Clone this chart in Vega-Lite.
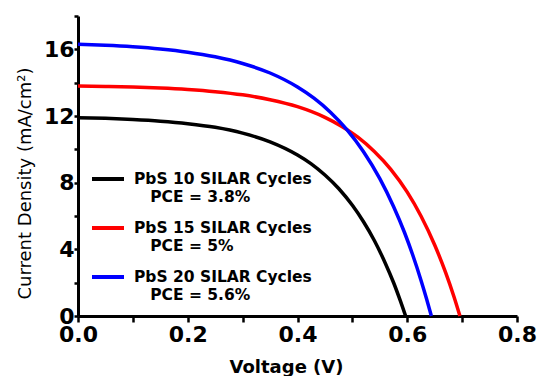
{
  "$schema": "https://vega.github.io/schema/vega-lite/v6.json",
  "width": 439,
  "height": 300,
  "autosize": {"type": "none"},
  "padding": {"left": 78, "top": 16, "right": 22, "bottom": 60},
  "background": "white",
  "config": {"view": {"stroke": null}},
  "data": {
    "values": [
      {"V": 0, "J": 11.9, "series": "PbS 10 SILAR Cycles"},
      {"V": 0.05, "J": 11.86, "series": "PbS 10 SILAR Cycles"},
      {"V": 0.1, "J": 11.79, "series": "PbS 10 SILAR Cycles"},
      {"V": 0.15, "J": 11.69, "series": "PbS 10 SILAR Cycles"},
      {"V": 0.2, "J": 11.54, "series": "PbS 10 SILAR Cycles"},
      {"V": 0.25, "J": 11.32, "series": "PbS 10 SILAR Cycles"},
      {"V": 0.3, "J": 10.97, "series": "PbS 10 SILAR Cycles"},
      {"V": 0.35, "J": 10.45, "series": "PbS 10 SILAR Cycles"},
      {"V": 0.4, "J": 9.66, "series": "PbS 10 SILAR Cycles"},
      {"V": 0.425, "J": 9.13, "series": "PbS 10 SILAR Cycles"},
      {"V": 0.45, "J": 8.46, "series": "PbS 10 SILAR Cycles"},
      {"V": 0.475, "J": 7.65, "series": "PbS 10 SILAR Cycles"},
      {"V": 0.5, "J": 6.64, "series": "PbS 10 SILAR Cycles"},
      {"V": 0.52, "J": 5.67, "series": "PbS 10 SILAR Cycles"},
      {"V": 0.54, "J": 4.53, "series": "PbS 10 SILAR Cycles"},
      {"V": 0.56, "J": 3.17, "series": "PbS 10 SILAR Cycles"},
      {"V": 0.575, "J": 2.01, "series": "PbS 10 SILAR Cycles"},
      {"V": 0.587, "J": 0.95, "series": "PbS 10 SILAR Cycles"},
      {"V": 0.597, "J": 0, "series": "PbS 10 SILAR Cycles"},
      {"V": 0, "J": 13.8, "series": "PbS 15 SILAR Cycles"},
      {"V": 0.05, "J": 13.77, "series": "PbS 15 SILAR Cycles"},
      {"V": 0.1, "J": 13.74, "series": "PbS 15 SILAR Cycles"},
      {"V": 0.15, "J": 13.68, "series": "PbS 15 SILAR Cycles"},
      {"V": 0.2, "J": 13.59, "series": "PbS 15 SILAR Cycles"},
      {"V": 0.25, "J": 13.46, "series": "PbS 15 SILAR Cycles"},
      {"V": 0.3, "J": 13.27, "series": "PbS 15 SILAR Cycles"},
      {"V": 0.35, "J": 12.98, "series": "PbS 15 SILAR Cycles"},
      {"V": 0.4, "J": 12.56, "series": "PbS 15 SILAR Cycles"},
      {"V": 0.45, "J": 11.92, "series": "PbS 15 SILAR Cycles"},
      {"V": 0.48, "J": 11.39, "series": "PbS 15 SILAR Cycles"},
      {"V": 0.51, "J": 10.73, "series": "PbS 15 SILAR Cycles"},
      {"V": 0.54, "J": 9.87, "series": "PbS 15 SILAR Cycles"},
      {"V": 0.57, "J": 8.8, "series": "PbS 15 SILAR Cycles"},
      {"V": 0.6, "J": 7.43, "series": "PbS 15 SILAR Cycles"},
      {"V": 0.625, "J": 6.0, "series": "PbS 15 SILAR Cycles"},
      {"V": 0.65, "J": 4.26, "series": "PbS 15 SILAR Cycles"},
      {"V": 0.67, "J": 2.6, "series": "PbS 15 SILAR Cycles"},
      {"V": 0.685, "J": 1.17, "series": "PbS 15 SILAR Cycles"},
      {"V": 0.696, "J": 0, "series": "PbS 15 SILAR Cycles"},
      {"V": 0, "J": 16.3, "series": "PbS 20 SILAR Cycles"},
      {"V": 0.05, "J": 16.24, "series": "PbS 20 SILAR Cycles"},
      {"V": 0.1, "J": 16.15, "series": "PbS 20 SILAR Cycles"},
      {"V": 0.15, "J": 16.02, "series": "PbS 20 SILAR Cycles"},
      {"V": 0.2, "J": 15.83, "series": "PbS 20 SILAR Cycles"},
      {"V": 0.25, "J": 15.55, "series": "PbS 20 SILAR Cycles"},
      {"V": 0.3, "J": 15.15, "series": "PbS 20 SILAR Cycles"},
      {"V": 0.35, "J": 14.58, "series": "PbS 20 SILAR Cycles"},
      {"V": 0.4, "J": 13.74, "series": "PbS 20 SILAR Cycles"},
      {"V": 0.43, "J": 13.07, "series": "PbS 20 SILAR Cycles"},
      {"V": 0.46, "J": 12.23, "series": "PbS 20 SILAR Cycles"},
      {"V": 0.49, "J": 11.18, "series": "PbS 20 SILAR Cycles"},
      {"V": 0.52, "J": 9.87, "series": "PbS 20 SILAR Cycles"},
      {"V": 0.55, "J": 8.24, "series": "PbS 20 SILAR Cycles"},
      {"V": 0.575, "J": 6.57, "series": "PbS 20 SILAR Cycles"},
      {"V": 0.595, "J": 5.01, "series": "PbS 20 SILAR Cycles"},
      {"V": 0.61, "J": 3.66, "series": "PbS 20 SILAR Cycles"},
      {"V": 0.625, "J": 2.15, "series": "PbS 20 SILAR Cycles"},
      {"V": 0.635, "J": 1.05, "series": "PbS 20 SILAR Cycles"},
      {"V": 0.644, "J": 0, "series": "PbS 20 SILAR Cycles"}
    ]
  },
  "mark": {"type": "line", "strokeWidth": 3.5, "interpolate": "monotone"},
  "encoding": {
    "x": {
      "field": "V",
      "type": "quantitative",
      "scale": {"domain": [0, 0.8], "nice": false},
      "axis": {
        "title": "Voltage (V)",
        "values": [0, 0.1, 0.2, 0.3, 0.4, 0.5, 0.6, 0.7, 0.8],
        "labelExpr": "abs(datum.value*5 - round(datum.value*5)) < 0.001 ? format(datum.value, '.1f') : ''",
        "grid": false,
        "domainColor": "#000000",
        "domainWidth": 3,
        "tickColor": "#000000",
        "tickWidth": 2.5,
        "tickSize": 6,
        "labelPadding": 2,
        "labelFont": "DejaVu Sans",
        "labelFontWeight": "bold",
        "labelFontSize": 22,
        "labelColor": "#000000",
        "labelFlush": false,
        "labelOverlap": false,
        "titleFont": "DejaVu Sans",
        "titleFontWeight": "bold",
        "titleFontSize": 18,
        "titleColor": "#000000",
        "titleX": 208,
        "titleY": 56,
        "titleBaseline": "alphabetic",
        "encoding": {
          "ticks": {"update": {"y2": {"signal": "abs(datum.value*5 - round(datum.value*5)) < 0.001 ? 6 : 3"}}}
        }
      }
    },
    "y": {
      "field": "J",
      "type": "quantitative",
      "scale": {"domain": [0, 18], "nice": false},
      "axis": {
        "title": "Current Density (mA/cm²)",
        "values": [0, 2, 4, 6, 8, 10, 12, 14, 16, 18],
        "labelExpr": "datum.value % 4 == 0 ? datum.label : ''",
        "grid": false,
        "domainColor": "#000000",
        "domainWidth": 3,
        "tickColor": "#000000",
        "tickWidth": 2.5,
        "tickSize": 4,
        "labelPadding": 0,
        "labelFont": "DejaVu Sans",
        "labelFontWeight": "bold",
        "labelFontSize": 22,
        "labelColor": "#000000",
        "labelFlush": false,
        "labelOverlap": false,
        "titleFont": "DejaVu Sans",
        "titleFontWeight": "normal",
        "titleFontSize": 18,
        "titleColor": "#000000",
        "titleX": -53,
        "titleY": 167,
        "titleBaseline": "middle",
        "encoding": {
          "ticks": {"update": {"x2": {"signal": "datum.value % 4 == 0 ? -4 : -2"}}}
        }
      }
    },
    "color": {
      "field": "series",
      "type": "nominal",
      "scale": {
        "domain": ["PbS 10 SILAR Cycles", "PbS 15 SILAR Cycles", "PbS 20 SILAR Cycles"],
        "range": ["#000000", "#ff0000", "#0000ff"]
      },
      "legend": {
        "title": null,
        "orient": "none",
        "legendX": 12,
        "legendY": 145,
        "padding": 0,
        "symbolType": "stroke",
        "symbolSize": 1024,
        "symbolStrokeWidth": 4,
        "labelFont": "DejaVu Sans",
        "labelFontWeight": "bold",
        "labelFontSize": 15.5,
        "labelColor": "#000000",
        "labelLimit": 400,
        "labelOffset": 8,
        "rowPadding": 5,
        "labelExpr": "[datum.label, datum.label == 'PbS 10 SILAR Cycles' ? '\u200b\u00a0\u00a0\u00a0PCE = 3.8%' : datum.label == 'PbS 15 SILAR Cycles' ? '\u200b\u00a0\u00a0\u00a0PCE = 5%' : '\u200b\u00a0\u00a0\u00a0PCE = 5.6%']",
        "encoding": {
          "labels": {"update": {"dy": {"value": 8}}}
        }
      }
    }
  }
}
